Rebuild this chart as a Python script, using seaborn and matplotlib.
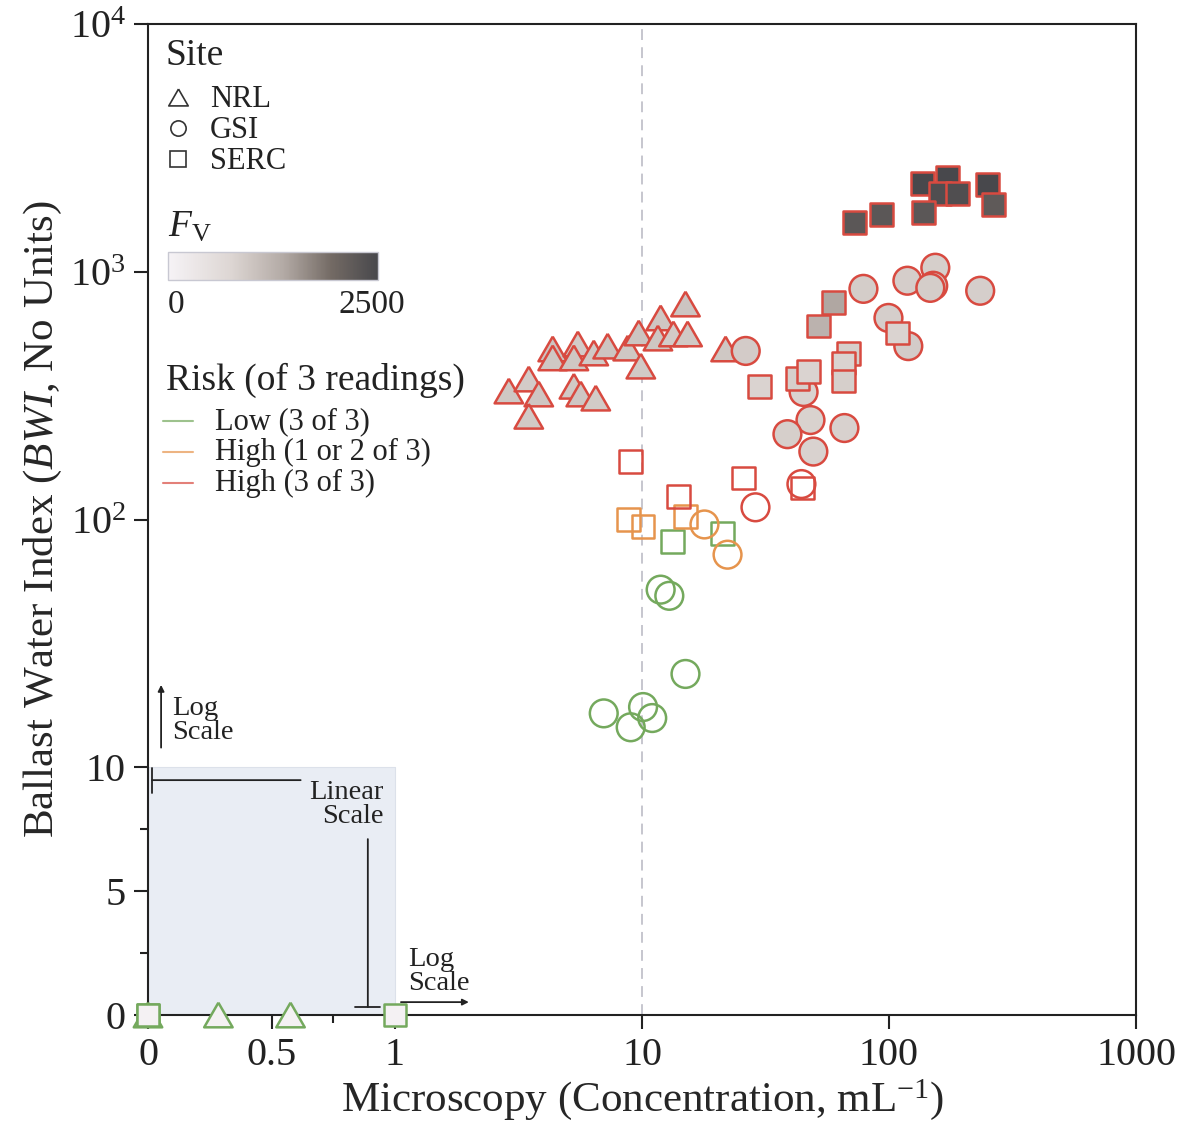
import numpy as np
import pandas as pd
import seaborn as sns
import matplotlib.pyplot as plt
from matplotlib.colors import LinearSegmentedColormap, Normalize

# ---------------- data ----------------
# NRL site (triangles)
nrl_conc = [2.89, 3.48, 3.82, 3.48, 4.35, 4.35, 5.50, 5.30, 6.38, 7.26, 5.30, 5.65, 6.50,
            8.75, 9.70, 9.89, 11.9, 11.6, 13.4, 15.3, 15.0, 21.8, 0.0, 0.285, 0.577]
nrl_bwi = [330, 369, 321, 261, 488, 449, 511, 449, 470, 501, 345, 321, 309,
           492, 566, 416, 651, 540, 561, 561, 741, 488, 0, 0, 0]
nrl_fv = [950, 900, 980, 920, 1000, 950, 900, 960, 940, 990, 930, 970, 910,
          950, 1000, 920, 960, 980, 900, 940, 1000, 950, 200, 200, 200]
nrl_risk = ['high', 'high', 'high', 'high', 'high', 'high', 'high', 'high', 'high', 'high',
            'high', 'high', 'high', 'high', 'high', 'high', 'high', 'high', 'high', 'high',
            'high', 'high', 'low', 'low', 'low']

# GSI site (circles)
gsi_conc = [26.3, 78.8, 99.5, 119.7, 118.7, 154, 151, 147, 234,
            45.1, 48.1, 38.8, 66.0, 49.4, 44.2, 28.8,
            17.9, 22.2,
            11.9, 12.9, 15.0, 7.0, 9.0, 10.1, 11.0]
gsi_bwi = [479, 853, 651, 501, 920, 1038, 878, 861, 838,
           327, 252, 221, 234, 188, 139, 112,
           95.5, 72.1,
           52.1, 49.2, 23.8, 16.5, 14.5, 17.5, 15.8]
gsi_fv = [900, 880, 860, 900, 870, 850, 900, 880, 860,
          800, 820, 850, 830, 810, 0, 0,
          0, 0,
          0, 0, 0, 0, 0, 0, 0]
gsi_risk = ['high', 'high', 'high', 'high', 'high', 'high', 'high', 'high', 'high',
            'high', 'high', 'high', 'high', 'high', 'high', 'high',
            'mid', 'mid',
            'low', 'low', 'low', 'low', 'low', 'low', 'low']

# SERC site (squares)
serc_conc = [72.5, 93.2, 136.5, 172, 161, 189, 138, 250, 264,
             59.6, 51.9,
             29.9, 42.6, 47.2, 68.5, 65.4, 65.4, 108, 25.8, 44.7, 9.0, 14.1,
             8.84, 10.1, 15.0,
             13.3, 21.2,
             0.0, 0.0, 1.0]
serc_bwi = [1579, 1702, 2271, 2403, 2070, 2070, 1733, 2250, 1866,
            749, 604,
            345, 372, 397, 466, 428, 362, 566, 147, 134, 172, 124,
            100, 93.7, 103,
            81.5, 87.7,
            0, 0, 0]
serc_fv = [2250, 2250, 2500, 2500, 2400, 2400, 2250, 2500, 2200,
           1400, 1250,
           800, 850, 800, 850, 800, 850, 800, 0, 0, 0, 0,
           0, 0, 0,
           0, 0,
           200, 200, 200]
serc_risk = ['high', 'high', 'high', 'high', 'high', 'high', 'high', 'high', 'high',
             'high', 'high',
             'high', 'high', 'high', 'high', 'high', 'high', 'high', 'high', 'high', 'high', 'high',
             'mid', 'mid', 'mid',
             'low', 'low',
             'low', 'low', 'low']

x_ticks = [0, 0.5, 1, 10, 100, 1000]
x_ticklabels = ['0', '0.5', '1', '10', '100', '1000']
y_ticks = [0, 5, 10, 100, 1000, 10000]
y_ticklabels = ['0', '5', '10', '$10^2$', '$10^3$', '$10^4$']

site_names = ['NRL', 'GSI', 'SERC']
risk_levels = ['low', 'mid', 'high']
risk_labels = ['Low (3 of 3)', 'High (1 or 2 of 3)', 'High (3 of 3)']

df = pd.concat([
    pd.DataFrame({'conc': nrl_conc, 'bwi': nrl_bwi, 'fv': nrl_fv, 'risk': nrl_risk, 'site': 'NRL'}),
    pd.DataFrame({'conc': gsi_conc, 'bwi': gsi_bwi, 'fv': gsi_fv, 'risk': gsi_risk, 'site': 'GSI'}),
    pd.DataFrame({'conc': serc_conc, 'bwi': serc_bwi, 'fv': serc_fv, 'risk': serc_risk, 'site': 'SERC'}),
], ignore_index=True)

# ---------------- styling ----------------
sns.set_style('ticks')
plt.rcParams['font.family'] = ['Liberation Serif', 'DejaVu Serif']
plt.rcParams['mathtext.fontset'] = 'custom'
plt.rcParams['mathtext.rm'] = 'Liberation Serif'
plt.rcParams['mathtext.it'] = 'Liberation Serif:italic'
plt.rcParams['mathtext.bf'] = 'Liberation Serif:bold'
plt.rcParams['axes.edgecolor'] = '#222222'
plt.rcParams['xtick.color'] = '#222222'
plt.rcParams['ytick.color'] = '#222222'
plt.rcParams['text.color'] = '#222222'

risk_colors = {'low': '#74a95d', 'mid': '#e6944d', 'high': '#d84a40'}
# equilateral-ish triangle, closed path
tri = [(0, 0.433), (-0.5, -0.433), (0.5, -0.433), (0, 0.433)]
site_markers = {'NRL': tri, 'GSI': 'o', 'SERC': 's'}
site_sizes = {'NRL': 420, 'GSI': 400, 'SERC': 270}

fv_stops = [(0.0, '#f6f3f6'), (0.3, '#ddd6d3'), (0.55, '#b3aaa5'), (0.78, '#736a64'), (1.0, '#48484c')]
point_cmap = LinearSegmentedColormap.from_list(
    'fv_pts', [(0.0, '#ffffff00')] + [(0.06, '#f6f3f6ff')] + [(p, c) for p, c in fv_stops[1:]])
bar_cmap = LinearSegmentedColormap.from_list('fv_bar', fv_stops)
fv_norm = Normalize(0, 2500)


# mixed scales: linear below 1 (x) / 10 (y), log above
def fwd_x(v):
    v = np.asarray(v, float)
    return np.where(v <= 1, v, 1 + np.log10(np.where(v > 1, v, 1)))


def inv_x(u):
    u = np.asarray(u, float)
    return np.where(u <= 1, u, 10 ** (np.clip(u, 1, 20) - 1))


def fwd_y(v):
    v = np.asarray(v, float)
    return np.where(v <= 10, v / 10, np.log10(np.where(v > 10, v, 10)))


def inv_y(u):
    u = np.asarray(u, float)
    return np.where(u <= 1, u * 10, 10 ** np.clip(u, 1, 20))


fig = plt.figure(figsize=(11.86, 11.34), dpi=100)
ax = fig.add_axes([148 / 1186, 1 - 1015 / 1134, 988 / 1186, 991 / 1134])
ax.set_xscale('function', functions=(fwd_x, inv_x))
ax.set_yscale('function', functions=(fwd_y, inv_y))
ax.set_xlim(0, 1000)
ax.set_ylim(0, 10000)

# linear-region shading and reference line
ax.fill_between([0, 1], 0, 10, color='#e9edf4', edgecolor='#dce1ea', lw=0.8, zorder=0)
ax.axvline(10, color='#c2c2ca', lw=1.3, ls=(0, (6, 4)), zorder=1)

# points
for risk in risk_levels:
    for site in site_names:
        sub = df[(df['site'] == site) & (df['risk'] == risk)]
        if sub.empty:
            continue
        sns.scatterplot(data=sub, x='conc', y='bwi', hue='fv', palette=point_cmap, hue_norm=fv_norm,
                        marker=site_markers[site], s=site_sizes[site], edgecolor=risk_colors[risk],
                        linewidth=1.8, legend=False, ax=ax, clip_on=False, zorder=3)

# axes cosmetics
for sp in ax.spines.values():
    sp.set_linewidth(1.5)
ax.set_xticks(x_ticks)
ax.set_xticklabels(x_ticklabels)
ax.set_xticks([0.25, 0.75], minor=True)
ax.set_yticks(y_ticks)
ax.set_yticklabels(y_ticklabels)
ax.set_yticks([2.5, 7.5], minor=True)
ax.tick_params(which='major', length=10, width=1.5, labelsize=29, pad=6)
ax.tick_params(which='minor', length=6, width=1.5)
ax.set_xlabel('Microscopy (Concentration, mL$^{-1}$)', fontsize=31, labelpad=2)
ax.set_ylabel('Ballast Water Index ($\\mathit{BWI}$, No Units)', fontsize=31, labelpad=4)

# scale annotations
arrow_kw = dict(color='#222222', lw=1.3, shrinkA=0, shrinkB=0)
ax.annotate('', xy=(0.053, 21.5), xytext=(0.053, 12),
            arrowprops=dict(arrowstyle='-|>', mutation_scale=9, **arrow_kw))
ax.text(0.098, 15.5, 'Log\nScale', fontsize=20.5, ha='left', va='center', linespacing=0.95)
ax.annotate('', xy=(0.016, 9.48), xytext=(0.618, 9.48),
            arrowprops=dict(arrowstyle='-[, widthB=0.9, lengthB=0', **arrow_kw))
ax.text(0.955, 8.5, 'Linear\nScale', fontsize=20.5, ha='right', va='center',
        linespacing=0.95, multialignment='right')
ax.annotate('', xy=(0.89, 0.32), xytext=(0.89, 7.1),
            arrowprops=dict(arrowstyle='-[, widthB=0.9, lengthB=0', **arrow_kw))
ax.annotate('', xy=(1.99, 0.52), xytext=(1.057, 0.52),
            arrowprops=dict(arrowstyle='-|>', mutation_scale=9, **arrow_kw))
ax.text(1.129, 1.76, 'Log\nScale', fontsize=20.5, ha='left', va='center', linespacing=0.95)

# ---------------- legends ----------------
to_ax = lambda px, py: ((px - 148) / 988, (1015 - py) / 991)

tx, ty = to_ax(166, 65)
ax.text(tx, ty, 'Site', fontsize=27, va='baseline', transform=ax.transAxes)
for i, site in enumerate(site_names):
    mx, my = to_ax(178, 97 + 31 * i)
    ax.plot(mx, my, marker=site_markers[site], ms=14 if site == 'NRL' else 11, mfc='none',
            mec='#333333', mew=1.2, ls='none', transform=ax.transAxes, clip_on=False)
    lx, ly = to_ax(210, 107 + 31 * i)
    ax.text(lx, ly, site, fontsize=22, va='baseline', transform=ax.transAxes)

cx0, cy0 = to_ax(168, 280)
cx1, cy1 = to_ax(378, 252)
cax = ax.inset_axes([cx0, cy0, cx1 - cx0, cy1 - cy0])
cb = fig.colorbar(plt.cm.ScalarMappable(norm=fv_norm, cmap=bar_cmap), cax=cax, orientation='horizontal')
cb.set_ticks([])
cb.outline.set_edgecolor('#c8c8d2')
cb.outline.set_linewidth(1.0)
cax.text(0, 1.6, '$F_{\\mathrm{V}}$', fontsize=27, va='baseline', ha='left', transform=cax.transAxes)
cax.text(0, -1.18, '0', fontsize=24, va='baseline', ha='left', transform=cax.transAxes)
cax.text(0.97, -1.18, '2500', fontsize=24, va='baseline', ha='center', transform=cax.transAxes)

tx, ty = to_ax(166, 390)
ax.text(tx, ty, 'Risk (of 3 readings)', fontsize=27, va='baseline', transform=ax.transAxes)
for i, (risk, lab) in enumerate(zip(risk_levels, risk_labels)):
    x0, yl = to_ax(163, 421 + 31 * i)
    x1, _ = to_ax(193, 421 + 31 * i)
    ax.plot([x0, x1], [yl, yl], color=risk_colors[risk], lw=1.5, alpha=0.7, transform=ax.transAxes)
    lx, ly = to_ax(215, 429 + 31 * i)
    ax.text(lx, ly, lab, fontsize=22, va='baseline', transform=ax.transAxes)

fig.savefig('out.png', dpi=100)
